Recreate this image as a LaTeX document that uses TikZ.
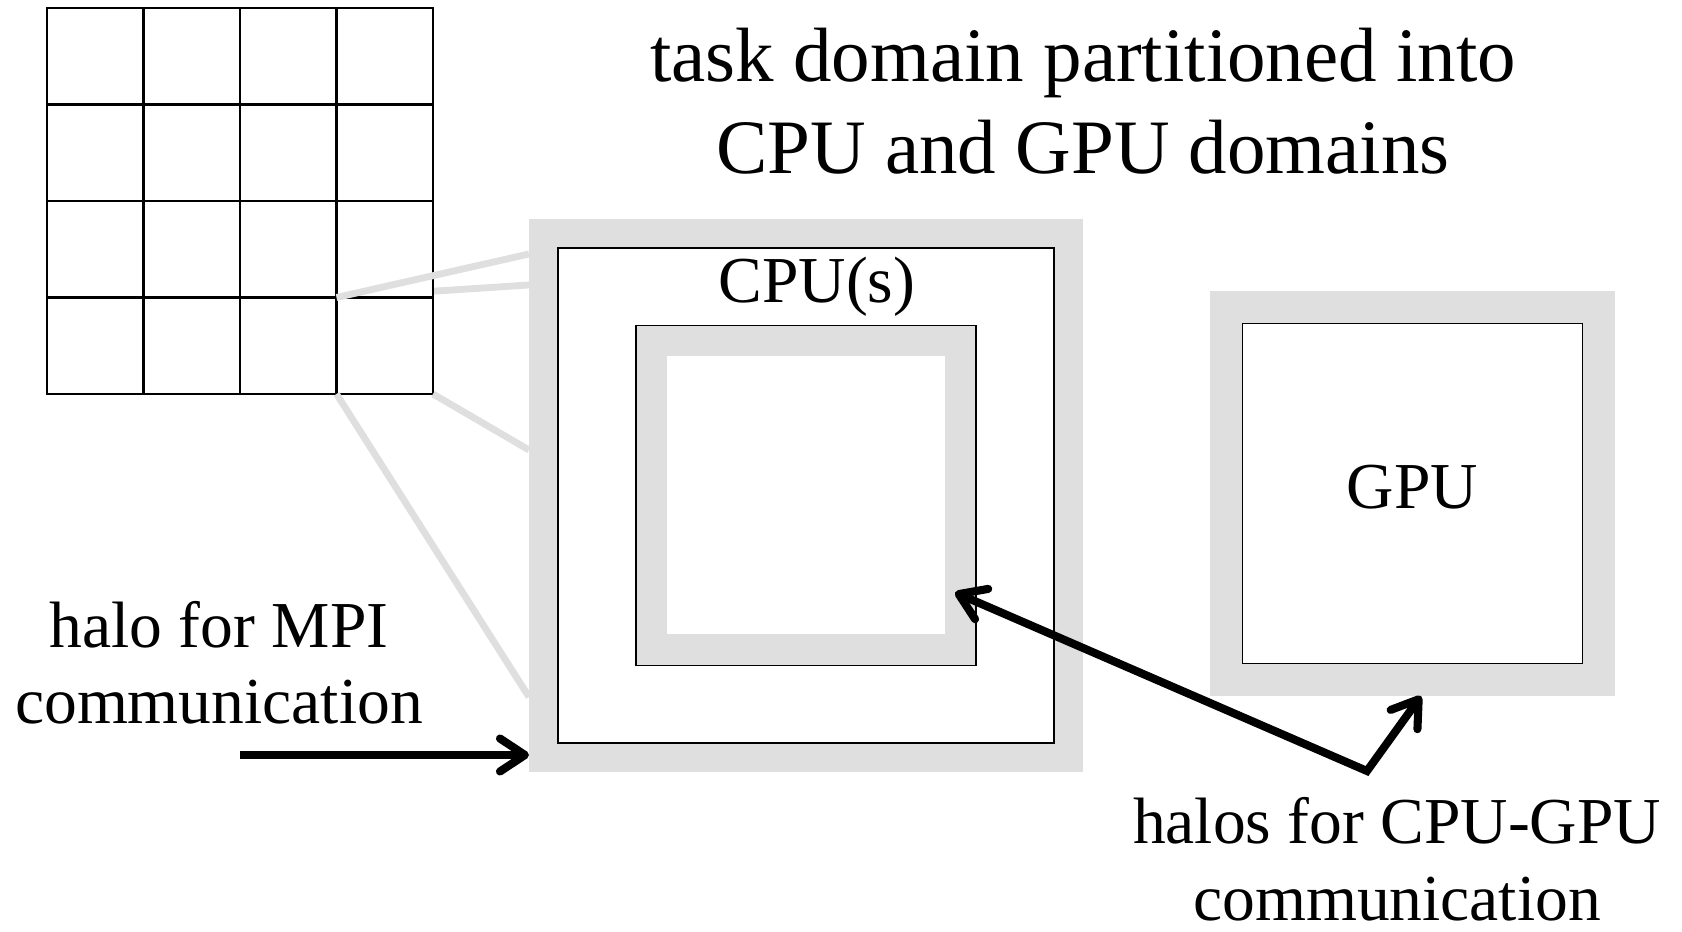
\documentclass[tikz,border=0pt]{standalone}
\usepackage{fontspec}
\setmainfont{Liberation Serif}
\usetikzlibrary{arrows.meta,positioning,backgrounds}
\definecolor{halo}{HTML}{DFDFDF}
\tikzset{halobox/.style={fill=halo,inner sep=0pt,outer sep=0pt}, domainbox/.style={draw=black,fill=white,line width=1.1pt,inner sep=0pt,outer sep=0pt},gridcell/.style={draw=black,fill=white,line width=1.2pt,minimum size=1.93cm,inner sep=0pt,outer sep=0pt},zoomline/.style={draw=halo,line width=3.9pt}, commarrow/.style={line width=4.6pt,black},lbl/.style={font=\fontsize{37.3}{43.8}\selectfont,align=center,inner sep=0pt},titletext/.style={font=\fontsize{43.8}{52.4}\selectfont,align=center,inner sep=0pt}}

\begin{document}
\begin{tikzpicture}[>={Straight Barb[length=5mm,width=6.6mm,round]}]
\useasboundingbox (0,0) rectangle (33.64,18.62);
% task domain grid
\foreach \i in {1,...,4}
  \foreach \j in {1,...,4}
    \node[gridcell] (c\i\j) at ({0.94+(\i-0.5)*1.93},{18.46-(\j-0.5)*1.93}) {};
% CPU domain with halos
\node[halobox,minimum width=11.08cm,minimum height=11.06cm] (cpuhalo) at (16.12,8.71) {};
\node[domainbox,minimum width=9.92cm,minimum height=9.9cm] (cpu) at (cpuhalo) {};
\node[domainbox,fill=halo,minimum size=6.8cm] (cpuin) at (cpu) {};
\node[halobox,fill=white,minimum size=5.56cm] (cpucore) at (cpuin) {};
\node[lbl,anchor=base] (cpulbl) at (16.34,12.56) {CPU(s)};
% GPU domain
\node[halobox,minimum size=8.1cm] (gpuhalo) at (28.25,8.75) {};
\node[domainbox,minimum size=6.8cm] (gpu) at (gpuhalo) {};
\node[lbl] (gpulbl) at ([yshift=0.13cm]gpu.center) {GPU};
% zoom lines from the grid cell
\coordinate (zA) at (10.58,13.54);
\coordinate (zB) at (10.58,12.92);
\coordinate (zC) at (10.58,9.62);
\coordinate (zD) at (10.58,4.68);
\begin{scope}[on background layer]
\draw[zoomline] (c44.north west) -- (zB);
\end{scope}
\draw[zoomline] (c44.north west) -- (zA);
\draw[zoomline] (c44.south east) -- (zC);
\draw[zoomline] (c44.south west) -- (zD);
% texts
\node[titletext,anchor=base] (title) at (21.66,15.14) {task domain partitioned into\\CPU and GPU domains};
\node[lbl,anchor=base] (mpilbl) at (4.38,4.14) {halo for MPI\\communication};
\node[lbl,anchor=base] (cglbl) at (27.94,0.22) {halos for CPU-GPU\\communication};
% arrows
\coordinate (mpitail) at (4.8,3.52);
\draw[commarrow,->] (mpitail) -- (mpitail -| cpuhalo.west);
\coordinate (kink) at (27.34,3.2);
\draw[commarrow,<->] ([xshift=-0.42cm,yshift=-1.94cm]cpuin.east) -- (kink) -- ([xshift=0.17cm]gpuhalo.south);
\end{tikzpicture}
\end{document}
